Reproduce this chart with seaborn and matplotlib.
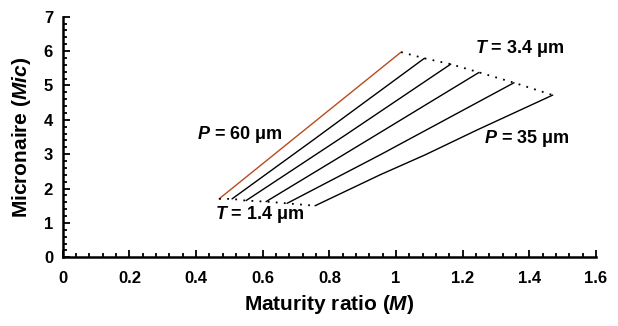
import matplotlib
matplotlib.use("Agg")
import matplotlib.pyplot as plt
from matplotlib.ticker import MultipleLocator
import pandas as pd
import seaborn as sns

# pore size P (um) for each curve, left to right
pore_sizes = [60, 55, 50, 45, 40, 35]

# maturity ratio / micronaire (first point T = 1.4, last T = 3.4)
maturity = [
    [0.469, 0.740, 1.015],
    [0.508, 0.751, 1.085],
    [0.550, 0.850, 1.164],
    [0.610, 0.930, 1.249],
    [0.673, 0.952, 1.354],
    [0.757, 0.952, 1.087, 1.242, 1.470],
]
micronaire = [
    [1.70, 3.82, 5.97],
    [1.70, 3.41, 5.79],
    [1.65, 3.57, 5.62],
    [1.62, 3.50, 5.38],
    [1.57, 2.98, 5.08],
    [1.50, 2.40, 2.98, 3.70, 4.72],
]

rows = []
for p, xs, ys in zip(pore_sizes, maturity, micronaire):
    for i, (x, y) in enumerate(zip(xs, ys)):
        rows.append({"P": p, "order": i, "M": x, "Mic": y})
df = pd.DataFrame(rows)

# end lines: T = 1.4 (first points) and T = 3.4 (last points)
ends = pd.DataFrame({
    "M": [xs[0] for xs in maturity] + [xs[-1] for xs in maturity],
    "Mic": [ys[0] for ys in micronaire] + [ys[-1] for ys in micronaire],
    "T": ["1.4"] * 6 + ["3.4"] * 6,
})

sns.set_style("ticks")
plt.rcParams["font.family"] = ["Liberation Sans", "DejaVu Sans"]
plt.rcParams["font.weight"] = "bold"
plt.rcParams["text.color"] = "black"
plt.rcParams["axes.labelcolor"] = "black"
plt.rcParams["xtick.color"] = "black"
plt.rcParams["ytick.color"] = "black"
plt.rcParams["axes.edgecolor"] = "black"
plt.rcParams["mathtext.fontset"] = "custom"
plt.rcParams["mathtext.it"] = "Liberation Sans:italic:bold"
plt.rcParams["mathtext.rm"] = "Liberation Sans:bold"

fig = plt.figure(figsize=(6.18, 3.26), dpi=100)
ax = fig.add_axes([0.1015, 0.2107, 0.863, 0.738])

palette = {60: "#B94A1E", 55: "black", 50: "black", 45: "black", 40: "black", 35: "black"}
sns.lineplot(data=df, x="M", y="Mic", hue="P", units="P", palette=palette,
             estimator=None, sort=False, linewidth=1.0, legend=False, ax=ax)
for t, grp in ends.groupby("T"):
    ax.plot(grp["M"], grp["Mic"], color="black", linewidth=1.3,
            linestyle=(0, (1, 3.5)))

fs = 13
ax.text(0.532, 3.56, r"$P$ = 60 μm", fontsize=fs, fontweight="bold", ha="center", va="center")
ax.text(1.393, 3.47, r"$P$ = 35 μm", fontsize=fs, fontweight="bold", ha="center", va="center")
ax.text(1.372, 6.09, r"$T$ = 3.4 μm", fontsize=fs, fontweight="bold", ha="center", va="center")
ax.text(0.592, 1.26, r"$T$ = 1.4 μm", fontsize=fs, fontweight="bold", ha="center", va="center")

ax.set_xlim(0, 1.6)
ax.set_ylim(0, 7)
ax.xaxis.set_major_locator(MultipleLocator(0.2))
ax.xaxis.set_minor_locator(MultipleLocator(0.04))
ax.yaxis.set_major_locator(MultipleLocator(1))
ax.yaxis.set_minor_locator(MultipleLocator(0.2))
ax.set_xticks([0, 0.2, 0.4, 0.6, 0.8, 1.0, 1.2, 1.4, 1.6])
ax.set_xticklabels(["0", "0.2", "0.4", "0.6", "0.8", "1", "1.2", "1.4", "1.6"])
ax.tick_params(which="major", direction="in", length=5, width=1.3, labelsize=12)
ax.tick_params(axis="x", which="major", pad=10)
ax.tick_params(axis="y", which="major", pad=7)
ax.tick_params(which="minor", direction="in", length=3, width=1.3)
for lab in ax.get_xticklabels() + ax.get_yticklabels():
    lab.set_fontweight("bold")

sns.despine(ax=ax)
for s in ["left", "bottom"]:
    ax.spines[s].set_linewidth(1.8)

ax.set_xlabel(r"Maturity ratio ($M$)", fontsize=15, fontweight="bold", labelpad=5)
ax.set_ylabel(r"Micronaire ($Mic$)", fontsize=15, fontweight="bold", labelpad=8)

fig.savefig("out.png", dpi=100)
